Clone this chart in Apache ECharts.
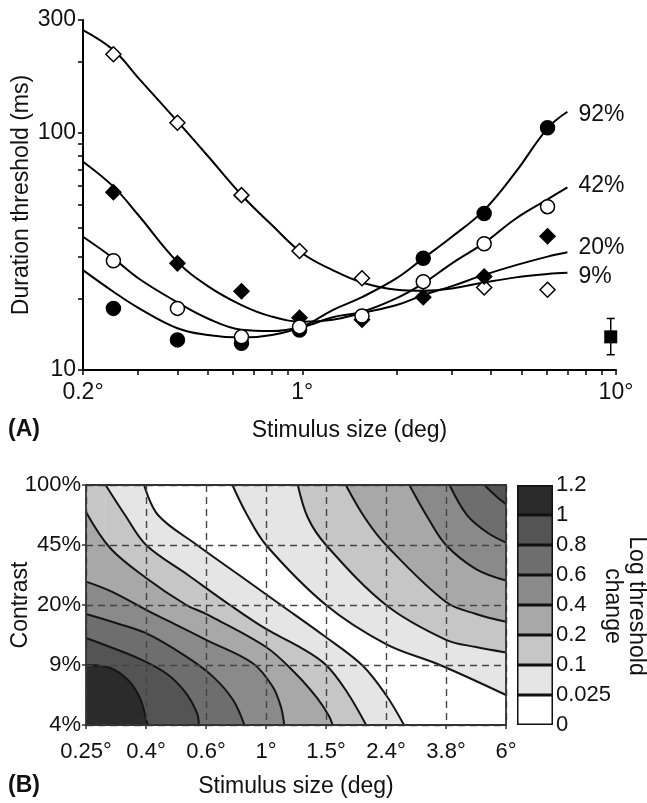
<!DOCTYPE html>
<html><head><meta charset="utf-8">
<script src="https://cdn.jsdelivr.net/npm/echarts@6/dist/echarts.min.js"></script>
<style>html,body{margin:0;padding:0;background:#fff}#c{width:647px;height:803px}</style>
</head><body><div id="c"></div>
<script>
// ---------- Panel A data ----------
const sizesA = [0.25, 0.4, 0.64, 0.98, 1.55, 2.43, 3.8, 6.05];
const thr92 = [18.2, 13.4, 12.96, 14.75, null, 29.6, 45.8, 105.3];
const thr42 = [28.9, 18.2, 13.8, 15.2, 16.9, 23.6, 34.1, 48.9];
const thr20 = [56.3, 28.2, 21.5, 16.6, 16.3, 20.3, 24.8, 36.7];
const thr9  = [215, 110.5, 54.7, 31.8, 24.4, null, 22.3, 21.8];
const curveX = [0.2, 0.25, 0.3, 0.4, 0.5, 0.64, 0.8, 1, 1.25, 1.55, 2, 2.43, 3, 3.8, 4.8, 6.05, 7];
const fit92 = [26.4, 21.4, 18.3, 15.0, 14.05, 13.7, 14.05, 15.2, 17.9, 20.3, 24.4, 29.6, 36.5, 47.3, 68.7, 104.7, 123];
const fit42 = [36.5, 29.6, 24.4, 19.3, 16.5, 14.8, 14.6, 15.2, 16.7, 17.6, 20.1, 23.2, 28.2, 34.4, 43.6, 52.5, 59];
const fit20 = [75.7, 59.4, 45.1, 28.6, 22.6, 18.8, 16.8, 16.0, 16.3, 17.4, 18.8, 20.7, 22.6, 25.2, 27.7, 30.1, 31.4];
const fit9  = [272, 224, 171, 112, 80, 54.8, 40.9, 31.1, 26.4, 23.4, 21.8, 21.6, 22.1, 23.4, 24.6, 25.4, 25.7];
const errorBarA = [9.62, 13.8, 11.6, 16.5]; // size, mean, low, high
const xTicksA = [0.2,0.3,0.4,0.5,0.6,0.7,0.8,0.9,1,2,3,4,5,6,7,8,9,10];
const xLabelsA = [0.2, 1, 10];
const yTicksA = [10,20,30,40,50,60,70,80,90,100,200,300];
const yLabelsA = [10, 100, 300];

// ---------- Panel B data ----------
const xTicksB = [0.25, 0.3937, 0.6199, 0.976, 1.5368, 2.4198, 3.8101, 6];
const xTickTextB = ['0.25°','0.4°','0.6°','1°','1.5°','2.4°','3.8°','6°'];
const yTicksB = [4, 8.944, 20, 44.72, 100];
const yTickTextB = ['4%','9%','20%','45%','100%'];
const levels = [0, 0.025, 0.1, 0.2, 0.4, 0.6, 0.8, 1, 1.2];
const levelText = ['0','0.025','0.1','0.2','0.4','0.6','0.8','1','1.2'];
const bandColors = ['#ffffff','#e5e5e5','#c6c6c6','#a8a8a8','#8a8a8a','#6e6e6e','#545454','#2b2b2b'];
// contour lines [size deg, contrast %], lower-left family
const cLow0025 = [[0.388,100],[0.431,66.87],[0.579,44.72],[0.796,29.9],[1.093,20],[1.502,13.37],[2.018,8.944],[2.42,5.98],[2.773,4]];
const cLow0100 = [[0.290,100],[0.3358,66.87],[0.394,44.72],[0.541,29.9],[0.743,20],[0.976,14.5],[1.258,11.39],[1.537,8.944],[1.801,6.23],[2.083,4]];
const cLow0200 = [[0.25,69.6],[0.300,42.96],[0.394,28.73],[0.534,20],[0.620,17.73],[0.976,11.39],[1.225,7.93],[1.436,5.75],[1.572,4.51],[1.616,4]];
const cLow0400 = [[0.25,27.37],[0.305,23.87],[0.394,18.75],[0.508,14.97],[0.620,12.54],[0.883,9.16],[1.026,6.70],[1.093,5.09],[1.12,4]];
const cLow0600 = [[0.25,17.73],[0.3137,15.71],[0.394,13.70],[0.534,10.01],[0.652,7.68],[0.760,5.61],[0.829,4]];
const cLow0800 = [[0.25,12.85],[0.300,11.39],[0.376,9.69],[0.4615,7.93],[0.529,6.23],[0.579,4.70],[0.587,4]];
const cLow1000 = [[0.25,8.94],[0.300,8.59],[0.3435,7.31],[0.376,5.75],[0.394,4.34],[0.399,4]];
// upper-right family
const cHigh0025 = [[0.757,100],[0.840,68.5],[0.976,44.72],[1.537,20],[2.42,11.85],[3.641,8.944],[6.0,5.98]];
const cHigh0100 = [[1.2415,100],[1.341,64.2],[1.537,44.72],[2.42,20],[3.81,12.54],[4.78,11.39],[6.0,10.59]];
const cHigh0200 = [[1.785,100],[2.064,64.2],[2.42,44.72],[3.81,20.82],[4.78,17.73],[6.0,15.97]];
const cHigh0400 = [[2.888,100],[3.325,64.2],[3.81,44.72],[4.78,32.4],[6.0,27.8]];
const cHigh0600 = [[3.915,100],[4.466,66.87],[5.235,52.5],[6.0,46.18]];
const cHigh0800 = [[5.094,100],[5.604,85.1],[6.0,77.3]];

const FONT = '"Liberation Sans", Arial, Helvetica, sans-serif';
const TXT = '#111';
function nearestIdx(arr, v){let bi=0,bd=Infinity;arr.forEach((t,i)=>{const d=Math.abs(Math.log(t)-Math.log(v));if(d<bd){bd=d;bi=i;}});return bi;}
function pairs(xs, ys){const out=[];xs.forEach((x,i)=>{if(ys[i]!=null)out.push([x,ys[i]]);});return out;}

const chart = echarts.init(document.getElementById('c'), null, {renderer:'canvas'});

const fitSeries = [
  {name:'92%', d:fit92, off:[0,3]},
  {name:'42%', d:fit42, off:[0,-2]},
  {name:'20%', d:fit20, off:[0,-5]},
  {name:'9%',  d:fit9,  off:[0,4]}
].map(s=>({
  type:'line', name:s.name, xAxisIndex:0, yAxisIndex:0, data:pairs(curveX, s.d),
  smooth:0.4, symbol:'none', lineStyle:{color:'#000', width:2}, z:2,
  endLabel:{show:true, formatter:p=>p.seriesName, color:TXT, fontSize:23, fontFamily:FONT, distance:11, offset:s.off}
}));

function markerSeries(name, d, symbol, filled, size){
  return {type:'scatter', name:name+' data', xAxisIndex:0, yAxisIndex:0, data:pairs(sizesA, d),
    symbol:symbol, symbolSize:size, z:3,
    itemStyle:{color: filled?'#000':'#fff', borderColor:'#000', borderWidth:1.5, opacity:1}};
}

const errSeries = {
  type:'custom', xAxisIndex:0, yAxisIndex:0, data:[errorBarA], z:4,
  encode:{x:0, y:1},
  renderItem:(params, api)=>{
    const x=api.value(0), m=api.value(1), lo=api.value(2), hi=api.value(3);
    const pm=api.coord([x,m]), pl=api.coord([x,lo]), ph=api.coord([x,hi]);
    const st={stroke:'#000', lineWidth:1.5};
    return {type:'group', children:[
      {type:'line', shape:{x1:pl[0],y1:pl[1],x2:ph[0],y2:ph[1]}, style:st},
      {type:'line', shape:{x1:ph[0]-4,y1:ph[1],x2:ph[0]+4,y2:ph[1]}, style:st},
      {type:'line', shape:{x1:pl[0]-4,y1:pl[1],x2:pl[0]+4,y2:pl[1]}, style:st},
      {type:'rect', shape:{x:pm[0]-6.5,y:pm[1]-6.5,width:13,height:13}, style:{fill:'#000'}}
    ]};
  }
};

// Panel B contour series
const yMinB = yTicksB[0], yMaxB = yTicksB[yTicksB.length-1], xMinB = xTicksB[0];
const contourDefs = [
  [0.025, cLow0025, 'low'], [0.025, cHigh0025, 'high'],
  [0.1, cLow0100, 'low'], [0.1, cHigh0100, 'high'],
  [0.2, cLow0200, 'low'], [0.2, cHigh0200, 'high'],
  [0.4, cLow0400, 'low'], [0.4, cHigh0400, 'high'],
  [0.6, cLow0600, 'low'], [0.6, cHigh0600, 'high'],
  [0.8, cLow0800, 'low'], [0.8, cHigh0800, 'high'],
  [1.0, cLow1000, 'low']
];
const contourSeries = [];
contourDefs.forEach(([lev, pts, side])=>{
  const k = levels.indexOf(lev);
  const col = bandColors[k];
  if(side==='low' && pts[0][1] >= yMaxB){
    contourSeries.push({type:'line', xAxisIndex:1, yAxisIndex:1, silent:true, symbol:'none',
      data:[[xMinB,yMaxB],[pts[0][0],yMaxB]], lineStyle:{width:0},
      areaStyle:{color:col, opacity:1, origin:yMinB}, z:2});
  }
  contourSeries.push({type:'line', xAxisIndex:1, yAxisIndex:1, silent:true, symbol:'none',
    data:pts, smooth:0.35, lineStyle:{color:'#151515', width:2},
    areaStyle:{color:col, opacity:1, origin: side==='low'? yMinB : yMaxB}, z:2});
});

const colorbarSeries = {
  type:'bar', xAxisIndex:3, yAxisIndex:3, barWidth:'100%', barCategoryGap:'0%', silent:true,
  data: bandColors.map(c=>({value:1, itemStyle:{color:c, borderColor:'#111', borderWidth:1.5}}))
};

const axisLineBlack = {show:true, lineStyle:{color:'#000', width:2}};
const frameB = {show:true, lineStyle:{color:'#333', width:1.8}};
const dashB = {show:true, lineStyle:{color:'#444', width:1.4, type:[7,5]}};
const option = {
  animation:false,
  backgroundColor:'#fff',
  textStyle:{fontFamily:FONT},
  grid:[
    {left:83, top:20, width:533, height:350, outerBoundsMode:'none', containLabel:false},
    {left:86, top:485, width:420, height:240, outerBoundsMode:'none', containLabel:false},
    {left:517, top:485, width:36, height:240, outerBoundsMode:'none', containLabel:false}
  ],
  xAxis:[
    {type:'log', gridIndex:0, min:0.2, max:10, logBase:10,
     axisLine:axisLineBlack,
     axisTick:{show:true, customValues:xTicksA, length:5, lineStyle:{color:'#000', width:1.5}},
     axisLabel:{customValues:xLabelsA, formatter:v=>xLabelsA[nearestIdx(xLabelsA,v)]+'°', color:TXT, fontSize:23, margin:11, fontFamily:FONT},
     splitLine:{show:false}, minorTick:{show:false},
     name:'Stimulus size (deg)', nameLocation:'middle', nameGap:49,
     nameTextStyle:{color:TXT, fontSize:23, fontFamily:FONT}},
    {type:'log', gridIndex:1, min:xTicksB[0], max:xTicksB[xTicksB.length-1], z:10,
     axisLine:frameB,
     axisTick:{show:true, customValues:xTicksB, length:4, lineStyle:{color:'#333', width:1.5}},
     axisLabel:{customValues:xTicksB, formatter:v=>xTickTextB[nearestIdx(xTicksB,v)], color:TXT, fontSize:22, margin:16, fontFamily:FONT},
     splitLine:dashB,
     name:'Stimulus size (deg)', nameLocation:'middle', nameGap:50,
     nameTextStyle:{color:TXT, fontSize:23, fontFamily:FONT}},
    {type:'log', gridIndex:1, position:'top', min:xTicksB[0], max:xTicksB[xTicksB.length-1], z:10,
     axisLine:frameB, axisTick:{show:false}, axisLabel:{show:false}, splitLine:{show:false}},
    {type:'value', gridIndex:2, min:0, max:1, show:false}
  ],
  yAxis:[
    {type:'log', gridIndex:0, min:10, max:300, logBase:10,
     axisLine:axisLineBlack,
     axisTick:{show:true, customValues:yTicksA, length:5, lineStyle:{color:'#000', width:1.5}},
     axisLabel:{customValues:yLabelsA, formatter:v=>String(yLabelsA[nearestIdx(yLabelsA,v)]), color:TXT, fontSize:23, margin:7, fontFamily:FONT},
     splitLine:{show:false}, minorTick:{show:false},
     name:'Duration threshold (ms)', nameLocation:'middle', nameGap:50, nameMoveOverlap:false,
     nameTextStyle:{color:TXT, fontSize:23, fontFamily:FONT}},
    {type:'log', gridIndex:1, min:yTicksB[0], max:yTicksB[yTicksB.length-1], z:10,
     axisLine:frameB,
     axisTick:{show:true, customValues:yTicksB, length:4, lineStyle:{color:'#333', width:1.5}},
     axisLabel:{customValues:yTicksB, formatter:v=>yTickTextB[nearestIdx(yTicksB,v)], color:TXT, fontSize:22, margin:5, fontFamily:FONT},
     splitLine:dashB,
     name:'Contrast', nameLocation:'middle', nameGap:54, nameMoveOverlap:false,
     nameTextStyle:{color:TXT, fontSize:23, fontFamily:FONT}},
    {type:'log', gridIndex:1, position:'right', min:yTicksB[0], max:yTicksB[yTicksB.length-1], z:10,
     axisLine:frameB, axisTick:{show:false}, axisLabel:{show:false}, splitLine:{show:false}},
    {type:'category', gridIndex:2, data:levelText.slice(0,8), show:false},
    {type:'value', gridIndex:2, position:'right', min:0, max:8, interval:1,
     axisLine:{show:false}, axisTick:{show:false}, splitLine:{show:false},
     axisLabel:{formatter:v=>levelText[v], color:TXT, fontSize:22, margin:3, fontFamily:FONT}}
  ],
  graphic:[
    {type:'text', left:8, top:418, style:{text:'(A)', font:'bold 23px '+FONT, fill:TXT}},
    {type:'text', left:8, top:774, style:{text:'(B)', font:'bold 23px '+FONT, fill:TXT}},
    {type:'text', x:636, y:606, rotation:-Math.PI/2, style:{text:'Log threshold', font:'23px '+FONT, fill:TXT, align:'center', verticalAlign:'middle'}},
    {type:'text', x:612, y:606, rotation:-Math.PI/2, style:{text:'change', font:'23px '+FONT, fill:TXT, align:'center', verticalAlign:'middle'}}
  ],
  series:[
    ...fitSeries,
    markerSeries('9%', thr9, 'diamond', false, 15),
    markerSeries('20%', thr20, 'diamond', true, 15),
    markerSeries('92%', thr92, 'circle', true, 14),
    markerSeries('42%', thr42, 'circle', false, 14),
    errSeries,
    ...contourSeries,
    colorbarSeries
  ]
};
chart.setOption(option);
</script></body></html>
